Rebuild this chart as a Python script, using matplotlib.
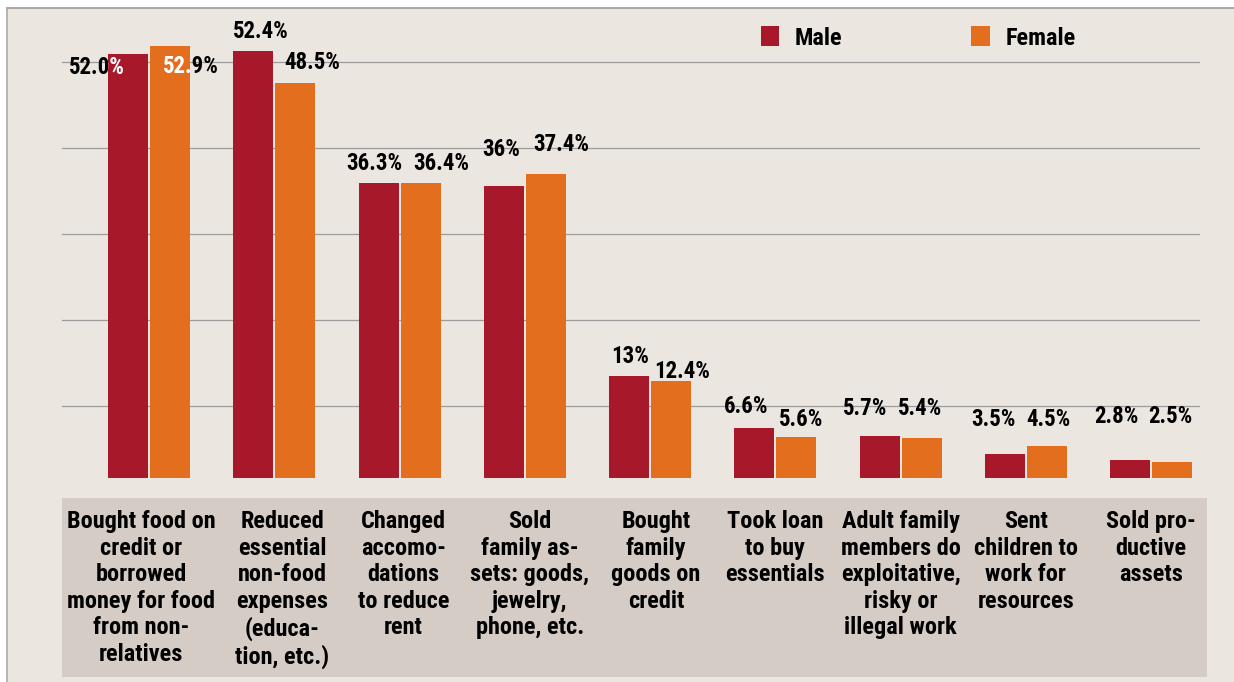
import numpy as np
import matplotlib
matplotlib.use("Agg")
import matplotlib.pyplot as plt
from matplotlib.patches import Rectangle
from matplotlib.lines import Line2D
import matplotlib.transforms as mtransforms

categories = [
    "Bought food on\ncredit or\nborrowed\nmoney for food\nfrom non-\nrelatives",
    "Reduced\nessential\nnon-food\nexpenses\n(educa-\ntion, etc.)",
    "Changed\naccomo-\ndations\nto reduce\nrent",
    "Sold\nfamily as-\nsets: goods,\njewelry,\nphone, etc.",
    "Bought\nfamily\ngoods on\ncredit",
    "Took loan\nto buy\nessentials",
    "Adult family\nmembers do\nexploitative,\nrisky or\nillegal work",
    "Sent\nchildren to\nwork for\nresources",
    "Sold pro-\nductive\nassets",
]
male = [52.0, 52.4, 36.3, 36.0, 13.0, 6.6, 5.7, 3.5, 2.8]
female = [52.9, 48.5, 36.4, 37.4, 12.4, 5.6, 5.4, 4.5, 2.5]
male_labels = ["52.0%", "52.4%", "36.3%", "36%", "13%", "6.6%", "5.7%", "3.5%", "2.8%"]
female_labels = ["52.9%", "48.5%", "36.4%", "37.4%", "12.4%", "5.6%", "5.4%", "4.5%", "2.5%"]
series_names = ["Male", "Female"]

# label offsets in pixels (dx, dy of text centre relative to bar top centre)
male_off = [(-31, -12), (8, 21), (-4, 21), (-3, 38), (1, 21), (-8, 23), (-14, 29), (-11, 36), (-14, 45)]
female_off = [(21, -19), (17, 22), (21, 21), (16, 31), (11, 11), (5, 19), (-1, 31), (2, 28), (-2, 47)]
# horizontal nudges (pixels) of the category labels
cat_nudge = [-8, 8, 4, 5, 6, 0, 0, 0, 0]

MALE_C = "#a8182b"
FEMALE_C = "#e36e1e"
BG = "#ebe6e0"
BOX = "#d5ccc6"
FONT = ["Roboto Condensed", "DejaVu Sans"]

W, H = 1234, 682
fig = plt.figure(figsize=(W / 100, H / 100), dpi=100)
fig.patch.set_facecolor("white")

# panel background and border
fig.patches.append(Rectangle((7 / W, 0), 1 - 7 / W, 1 - 8 / H, transform=fig.transFigure,
                             facecolor=BG, edgecolor="none", zorder=-2))
fig.lines.append(Line2D([7 / W, 1], [1 - 8 / H, 1 - 8 / H], transform=fig.transFigure,
                        color="#999999", lw=1.2, zorder=-1))
fig.lines.append(Line2D([7 / W, 7 / W], [0, 1 - 8 / H], transform=fig.transFigure,
                        color="#aaaaaa", lw=1.2, zorder=-1))
# category label box
fig.patches.append(Rectangle((62 / W, 1 - 677 / H), (1207 - 62) / W, (677 - 498) / H,
                             transform=fig.transFigure, facecolor=BOX, edgecolor="none", zorder=-1))

ax_left, ax_right = 62 / W, 1200 / W
ax_bot, ax_top = 1 - 478 / H, 1 - 20 / H
ax = fig.add_axes([ax_left, ax_bot, ax_right - ax_left, ax_top - ax_bot])
ax.set_zorder(2)
ax.set_facecolor("none")
for s in ax.spines.values():
    s.set_visible(False)

x = np.arange(len(categories))
step = 125.25
bw = 40 / step
off = 21 / step
ax.set_xlim(-(149 - 62) / step, (1200 - 149) / step)
ax.set_ylim(0.6, 56.1)

ax.set_yticks([9.3, 19.7, 30.2, 40.6, 51.0])
ax.yaxis.grid(True, color="#9c9c9c", lw=0.9)
ax.set_axisbelow(True)
ax.tick_params(left=False, bottom=False, labelleft=False, labelbottom=False)

bm = ax.bar(x - off, male, bw, color=MALE_C, zorder=3, label=series_names[0])
bf = ax.bar(x + off, female, bw, color=FEMALE_C, zorder=3, label=series_names[1])

def add_labels(bars, labels, offs):
    for rect, lab, (dx, dy) in zip(bars, labels, offs):
        xc = rect.get_x() + rect.get_width() / 2
        yt = rect.get_height()
        kw = dict(xy=(xc, yt), xytext=(dx, dy - 8), textcoords="offset pixels",
                  ha="center", va="baseline", fontsize=16.5, fontweight="bold",
                  family=FONT, annotation_clip=False)
        ax.annotate(lab, color="black", zorder=2, **kw)
        t = ax.annotate(lab, color="white", zorder=4, **kw)
        t.set_clip_path(rect)

add_labels(bm, male_labels, male_off)
add_labels(bf, female_labels, female_off)

# category labels
trans = mtransforms.blended_transform_factory(ax.transData, fig.transFigure)
for xi, cat, nd in zip(x, categories, cat_nudge):
    ax.annotate(cat, xy=(xi, 1 - 510 / H), xycoords=trans, xytext=(nd, 0),
                textcoords="offset pixels", ha="center", va="top",
                fontsize=17.5, fontweight="bold", family=FONT, linespacing=1.2,
                color="black", annotation_clip=False)

# legend
fig.legend(handles=[bm, bf], labels=series_names, loc="center left",
           bbox_to_anchor=(761 / W, 1 - 38 / H), ncol=2, frameon=False,
           prop={"family": FONT, "weight": "bold", "size": 17.5},
           handlelength=0.76, handleheight=0.85, handletextpad=0.64,
           columnspacing=5.3, borderpad=0, borderaxespad=0)

fig.savefig("out.png", dpi=100, facecolor=fig.get_facecolor())
